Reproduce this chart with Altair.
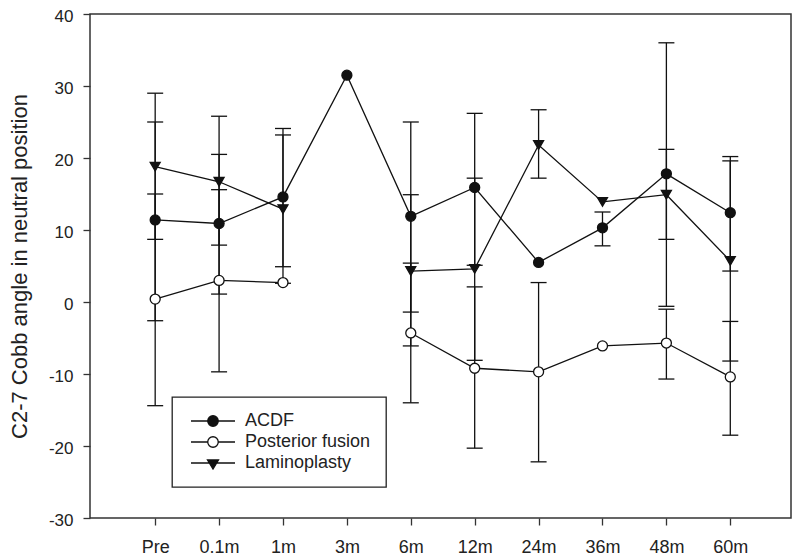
import json
import altair as alt
import pandas as pd

categories = ["Pre", "0.1m", "1m", "3m", "6m", "12m", "24m", "36m", "48m", "60m"]
series_names = ["ACDF", "Posterior fusion", "Laminoplasty"]

acdf_mean = [11.4, 10.9, 14.6, 31.5, 11.9, 15.9, 5.5, 10.3, 17.8, 12.4]
acdf_upper = [25.0, 20.5, 24.1, None, 25.0, 26.2, None, 12.5, 36.0, 20.2]
acdf_lower = [-2.6, 1.1, 4.9, None, -1.4, 5.1, None, 7.8, -0.6, 4.3]

post_mean = [0.4, 3.0, 2.7, None, -4.3, -9.2, -9.7, -6.1, -5.7, -10.4]
post_upper = [15.0, 15.6, None, None, 5.4, 2.1, 2.7, None, -1.0, -2.7]
post_lower = [-14.4, -9.7, None, None, -14.0, -20.3, -22.2, None, -10.7, -18.5]

lam_mean = [18.8, 16.7, 12.9, None, 4.3, 4.6, 21.8, 13.9, 14.9, 5.7]
lam_upper = [29.0, 25.8, 23.2, None, 14.9, 17.2, 26.7, None, 21.2, 19.6]
lam_lower = [8.7, 7.9, 2.6, None, -6.1, -8.1, 17.2, None, 8.7, -8.2]

rows = []
for name, mean, up, lo in [
    ("ACDF", acdf_mean, acdf_upper, acdf_lower),
    ("Posterior fusion", post_mean, post_upper, post_lower),
    ("Laminoplasty", lam_mean, lam_upper, lam_lower),
]:
    seg = 0
    for i, (m, u, l) in enumerate(zip(mean, up, lo)):
        if m is None:
            seg += 1
            continue
        rows.append(dict(series=name, idx=i, mean=m, upper=u, lower=l, seg=f"{name}-{seg}"))
df = pd.DataFrame(rows)

FONT = "Liberation Sans"
INK = "#111"

x_enc = alt.X(
    "idx:Q",
    scale=alt.Scale(domain=[-1.02, 9.95], nice=False, zero=False),
    axis=alt.Axis(
        values=list(range(len(categories))),
        labelExpr=f"{json.dumps(categories)}[datum.value]",
        title=None,
        labelPadding=13,
        labelFontSize=18,
    ),
)
y_scale = alt.Scale(domain=[-30, 40], nice=False, zero=False)
y_axis = alt.Axis(
    values=list(range(-30, 41, 10)),
    labelExpr="'' + datum.value",
    title="C2-7 Cobb angle in neutral position",
    labelPadding=10,
    labelOffset=2,
    titleX=-71,
    titleY=252,
    titleAngle=-90,
    titleAlign="center",
    titleBaseline="middle",
)

base = alt.Chart(df)
err = base.transform_filter("isValid(datum.upper)")

rules = err.mark_rule(color=INK, strokeWidth=1.3).encode(
    x=x_enc, y=alt.Y("lower:Q", scale=y_scale, axis=y_axis), y2="upper:Q"
)
cap_up = err.mark_rule(color=INK, strokeWidth=1.3, xOffset=-8, x2Offset=8).encode(
    x=x_enc, x2="idx:Q", y=alt.Y("upper:Q", scale=y_scale, axis=y_axis)
)
cap_lo = err.mark_rule(color=INK, strokeWidth=1.3, xOffset=-8, x2Offset=8).encode(
    x=x_enc, x2="idx:Q", y=alt.Y("lower:Q", scale=y_scale, axis=y_axis)
)
lines = base.mark_line(color=INK, strokeWidth=1.3).encode(
    x=x_enc, y=alt.Y("mean:Q", scale=y_scale, axis=y_axis), detail="seg:N"
)
points = base.mark_point(filled=True, stroke=INK, strokeWidth=1.3, opacity=1).encode(
    x=x_enc,
    y=alt.Y("mean:Q", scale=y_scale, axis=y_axis),
    shape=alt.Shape("series:N", scale=alt.Scale(domain=series_names, range=["circle", "circle", "triangle-down"]), legend=None),
    fill=alt.Fill("series:N", scale=alt.Scale(domain=series_names, range=[INK, "white", INK]), legend=None),
    size=alt.Size("series:N", scale=alt.Scale(domain=series_names, range=[100, 100, 140]), legend=None),
)

legend_paths = [
    "M-1,0H7.8M4.45,0A1.05,1.05,0,1,1,2.35,0A1.05,1.05,0,1,1,4.45,0Z",
    "M-1,0H2.35M4.45,0H7.8M4.45,0A1.05,1.05,0,1,1,2.35,0A1.05,1.05,0,1,1,4.45,0Z",
    "M-1,0H7.8M2.3,-0.6L4.5,-0.6L3.4,1.2Z",
]
leg = alt.Legend(
    title=None,
    orient="none",
    legendX=82,
    legendY=383,
    padding=15,
    strokeColor="#222",
    fillColor="white",
    labelFont=FONT,
    labelFontSize=18,
    labelColor="#222",
    labelOffset=40,
    rowPadding=3,
    symbolSize=100,
    symbolStrokeColor=INK,
    symbolStrokeWidth=1.3,
    symbolOpacity=1,
)
legend_layer = base.transform_filter("false").mark_point(filled=True, strokeWidth=1.3, opacity=1).encode(
    x=x_enc,
    y=alt.Y("mean:Q", scale=y_scale, axis=y_axis),
    shape=alt.Shape("series:N", scale=alt.Scale(domain=series_names, range=legend_paths), legend=leg),
    fill=alt.Fill("series:N", scale=alt.Scale(domain=series_names, range=[INK, "white", INK]), legend=leg),
    stroke=alt.Stroke("series:N", scale=alt.Scale(domain=series_names, range=[INK, INK, INK]), legend=leg),
)

chart = (
    alt.layer(rules, cap_up, cap_lo, lines, points, legend_layer)
    .resolve_scale(shape="independent", fill="independent", size="independent", stroke="independent")
    .properties(
        width=701,
        height=504,
        padding={"left": 82, "top": 6, "right": 1, "bottom": 38},
        autosize=alt.AutoSizeParams(type="none"),
        background="white",
    )
    .configure_view(stroke="#333", strokeWidth=1.5)
    .configure_axis(
        grid=False,
        domain=False,
        tickColor="#333",
        tickWidth=1.3,
        tickSize=7,
        labelFont=FONT,
        labelFontSize=17,
        labelColor="#222",
        titleFont=FONT,
        titleFontSize=22,
        titleFontWeight="normal",
        titleColor="#222",
    )
    .configure_legend(strokeWidth=1.3)
)

chart.save("out.html", embed_options={"renderer": "svg", "actions": False})
